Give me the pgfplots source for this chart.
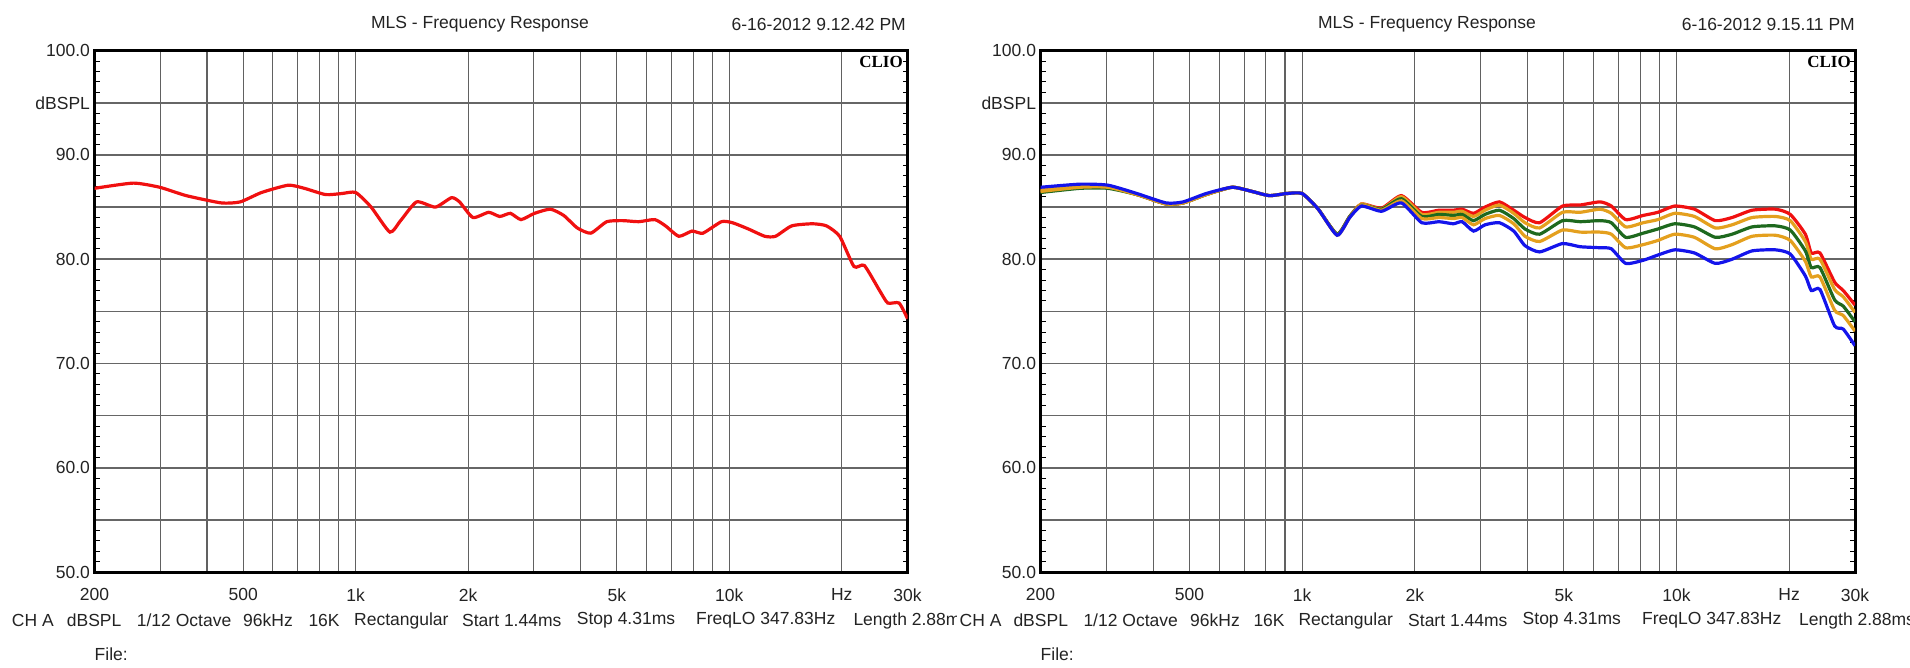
\documentclass[border=0pt]{standalone}
\usepackage{fontspec}
\setmainfont{Liberation Sans}
\newfontfamily\cliofont{Liberation Serif}
\usepackage{pgfplots}
\usepackage{pgfplotstable}
\pgfplotsset{compat=1.18}
\definecolor{cred}{RGB}{240,16,16}
\definecolor{corange}{RGB}{228,160,30}
\definecolor{cgreen}{RGB}{30,105,30}
\definecolor{cblue}{RGB}{20,20,235}
\definecolor{txt}{RGB}{35,35,35}
\newcommand{\chfont}{\fontsize{17.5pt}{20pt}\selectfont}

\pgfplotstableread{
f      v
200    86.8
254    87.3
299    86.9
352    86.1
437    85.4
491    85.5
560    86.4
660    87.1
729    86.8
831    86.2
918    86.3
1000   86.4
1100   85.0
1235   82.6
1319   83.7
1456   85.5
1635   85.0
1805   85.9
1897   85.5
2060   84.0
2270   84.5
2430   84.1
2595   84.4
2770   83.8
3010   84.4
3320   84.8
3605   84.2
3920   83.0
4260   82.5
4700   83.6
5190   83.7
5725   83.6
6320   83.8
6750   83.2
7330   82.2
7950   82.7
8500   82.5
9530   83.6
10200  83.5
11250  82.9
12450  82.2
13300  82.2
14700  83.2
16700  83.4
18200  83.2
19750  82.2
21570  79.3
22990  79.4
25250  77.0
26560  75.8
28480  75.8
30000  74.3
}\leftdata

\pgfplotstableread{
f      R     U     G     L     B
200    86.6  86.6  86.4  86.5  86.9
255    87.0  87.0  86.8  86.9  87.2
303    86.9  86.9  86.8  86.9  87.1
362    86.2  86.2  86.2  86.2  86.3
433    85.3  85.3  85.3  85.3  85.4
481    85.4  85.4  85.4  85.4  85.5
554    86.2  86.2  86.2  86.2  86.3
650    86.9  86.9  86.9  86.9  86.9
735    86.5  86.5  86.5  86.5  86.5
817    86.1  86.1  86.1  86.1  86.1
909    86.3  86.3  86.3  86.3  86.3
1000   86.3  86.3  86.3  86.3  86.3
1104   84.8  84.8  84.8  84.8  84.8
1240   82.4  82.4  82.4  82.3  82.3
1340   84.1  84.1  84.1  84.0  84.0
1440   85.3  85.3  85.2  85.2  85.1
1630   84.9  84.8  84.8  84.7  84.6
1842   86.1  86.0  85.8  85.6  85.4
2087   84.5  84.3  84.1  83.9  83.5
2320   84.7  84.5  84.3  84.0  83.6
2535   84.7  84.5  84.2  83.9  83.4
2675   84.8  84.6  84.3  84.0  83.6
2870   84.4  84.1  83.7  83.3  82.7
3080   85.0  84.7  84.3  83.9  83.3
3365   85.5  85.2  84.7  84.2  83.5
3675   84.7  84.4  83.9  83.4  82.7
3940   84.0  83.5  82.9  82.2  81.3
4310   83.5  83.0  82.4  81.7  80.7
4960   85.1  84.5  83.7  82.8  81.5
5530   85.2  84.5  83.6  82.6  81.2
6250   85.5  84.8  83.7  82.6  81.1
6700   85.1  84.4  83.5  82.4  81.0
7320   83.8  83.1  82.1  81.1  79.6
8150   84.2  83.5  82.5  81.4  79.9
8920   84.5  83.8  82.9  81.8  80.4
9900   85.1  84.4  83.4  82.4  80.9
11170  84.8  84.1  83.1  82.1  80.6
12700  83.7  83.0  82.1  81.0  79.6
14080  84.0  83.3  82.4  81.4  80.0
15930  84.7  84.0  83.1  82.2  80.8
18390  84.8  84.1  83.2  82.3  80.9
20140  84.3  83.7  82.8  81.8  80.5
22100  82.4  81.7  80.8  79.8  78.4
22920  80.6  80.0  79.2  78.3  77.0
24180  80.6  80.0  79.2  78.3  77.1
26460  77.8  77.1  76.1  75.1  73.6
27900  77.0  76.4  75.5  74.6  73.3
30000  75.6  74.9  74.0  73.1  71.7
}\rightdata

\tikzset{crv/.style={line width=3.2pt, smooth, tension=0.35}}

\begin{document}
\begin{tikzpicture}
\path[use as bounding box] (0pt,0pt) rectangle (1910pt,667pt);

% ---------- left panel ----------
\begin{axis}[
    at={(94.5pt,95pt)}, anchor=south west,
    scale only axis, width=813pt, height=521.3pt,
    xmode=log,
    xmin=200, xmax=30000,
    ymin=50, ymax=100,
    xtick={200,300,400,500,600,700,800,900,1000,2000,3000,4000,5000,6000,7000,8000,9000,10000,20000,30000},
    xticklabels={200,,,500,,,,,1k,2k,,,5k,,,,,10k,Hz,30k},
    ytick={50,55,60,65,70,75,80,85,90,95,100},
    yticklabels={50.0,,60.0,,70.0,,80.0,,90.0,dBSPL,100.0},
    minor y tick num=4,
    xminorticks=false,
    xmajorgrids, ymajorgrids,
    x grid style={black!62, line width=1.1pt},
    y grid style={black!60, line width=1.6pt},
    axis line style={line width=3pt, black},
    major tick length=0pt,
    minor tick length=5pt,
    tick align=inside,
    minor tick style={line width=1pt, black},
    every tick label/.append style={font=\chfont, text=txt},
    xticklabel style={yshift=-13pt},
    yticklabel style={xshift=-1pt},
  ]
  \addplot[crv, cred, no marks] table[x=f, y=v] {\leftdata};
\end{axis}

% ---------- right panel ----------
\begin{axis}[
    at={(1040.5pt,95pt)}, anchor=south west,
    scale only axis, width=814.5pt, height=521.3pt,
    xmode=log,
    xmin=200, xmax=30000,
    ymin=50, ymax=100,
    xtick={200,300,400,500,600,700,800,900,1000,2000,3000,4000,5000,6000,7000,8000,9000,10000,20000,30000},
    xticklabels={200,,,500,,,,,1k,2k,,,5k,,,,,10k,Hz,30k},
    ytick={50,55,60,65,70,75,80,85,90,95,100},
    yticklabels={50.0,,60.0,,70.0,,80.0,,90.0,dBSPL,100.0},
    minor y tick num=4,
    xminorticks=false,
    xmajorgrids, ymajorgrids,
    x grid style={black!62, line width=1.1pt},
    y grid style={black!60, line width=1.6pt},
    axis line style={line width=3pt, black},
    major tick length=0pt,
    minor tick length=5pt,
    tick align=inside,
    minor tick style={line width=1pt, black},
    every tick label/.append style={font=\chfont, text=txt},
    xticklabel style={yshift=-13pt},
    yticklabel style={xshift=-1pt},
  ]
  \addplot[crv, cred, no marks] table[x=f, y=R] {\rightdata};
  \addplot[crv, corange, no marks] table[x=f, y=U] {\rightdata};
  \addplot[crv, cgreen, no marks] table[x=f, y=G] {\rightdata};
  \addplot[crv, corange, no marks] table[x=f, y=L] {\rightdata};
  \addplot[crv, cblue, no marks] table[x=f, y=B] {\rightdata};
\end{axis}

% titles
\node[font=\chfont, text=txt] at (480pt,643pt) {MLS - Frequency Response};
\node[font=\chfont, text=txt, anchor=east, inner sep=0pt] at (906pt,643pt) {6-16-2012 9.12.42 PM};
\node[font=\chfont, text=txt] at (1427pt,643pt) {MLS - Frequency Response};
\node[font=\chfont, text=txt, anchor=east, inner sep=0pt] at (1855pt,643pt) {6-16-2012 9.15.11 PM};

% CLIO marks
\node[font=\fontsize{17pt}{20pt}\cliofont\bfseries, anchor=east, inner sep=0pt] at (903pt,605.3pt) {CLIO};
\node[font=\fontsize{17pt}{20pt}\cliofont\bfseries, anchor=east, inner sep=0pt] at (1851pt,605.3pt) {CLIO};

% bottom info rows
\begin{scope}
\clip (0pt,0pt) rectangle (956pt,667pt);
\foreach \xx/\tt in {11.7/{CH A}, 66.7/{dBSPL}, 136.7/{1/12 Octave}, 243/{96kHz}, 308.3/{16K}, 354/{Rectangular}, 462/{Start 1.44ms}, 576.7/{Stop 4.31ms}, 696/{FreqLO 347.83Hz}, 853.3/{Length 2.88ms}}
  \node[font=\chfont, text=txt, anchor=west, inner sep=0pt] at (\xx pt,46.5pt) {\tt};
\end{scope}
\begin{scope}
\clip (956pt,0pt) rectangle (1910pt,667pt);
\foreach \xx/\tt in {959.5/{CH A}, 1013.3/{dBSPL}, 1083.3/{1/12 Octave}, 1190/{96kHz}, 1253.3/{16K}, 1298.3/{Rectangular}, 1408/{Start 1.44ms}, 1522.5/{Stop 4.31ms}, 1642/{FreqLO 347.83Hz}, 1799/{Length 2.88ms}}
  \node[font=\chfont, text=txt, anchor=west, inner sep=0pt] at (\xx pt,46.5pt) {\tt};
\end{scope}
\node[font=\chfont, text=txt, anchor=west, inner sep=0pt] at (94.5pt,13pt) {File:};
\node[font=\chfont, text=txt, anchor=west, inner sep=0pt] at (1040.5pt,13pt) {File:};
\end{tikzpicture}
\end{document}
